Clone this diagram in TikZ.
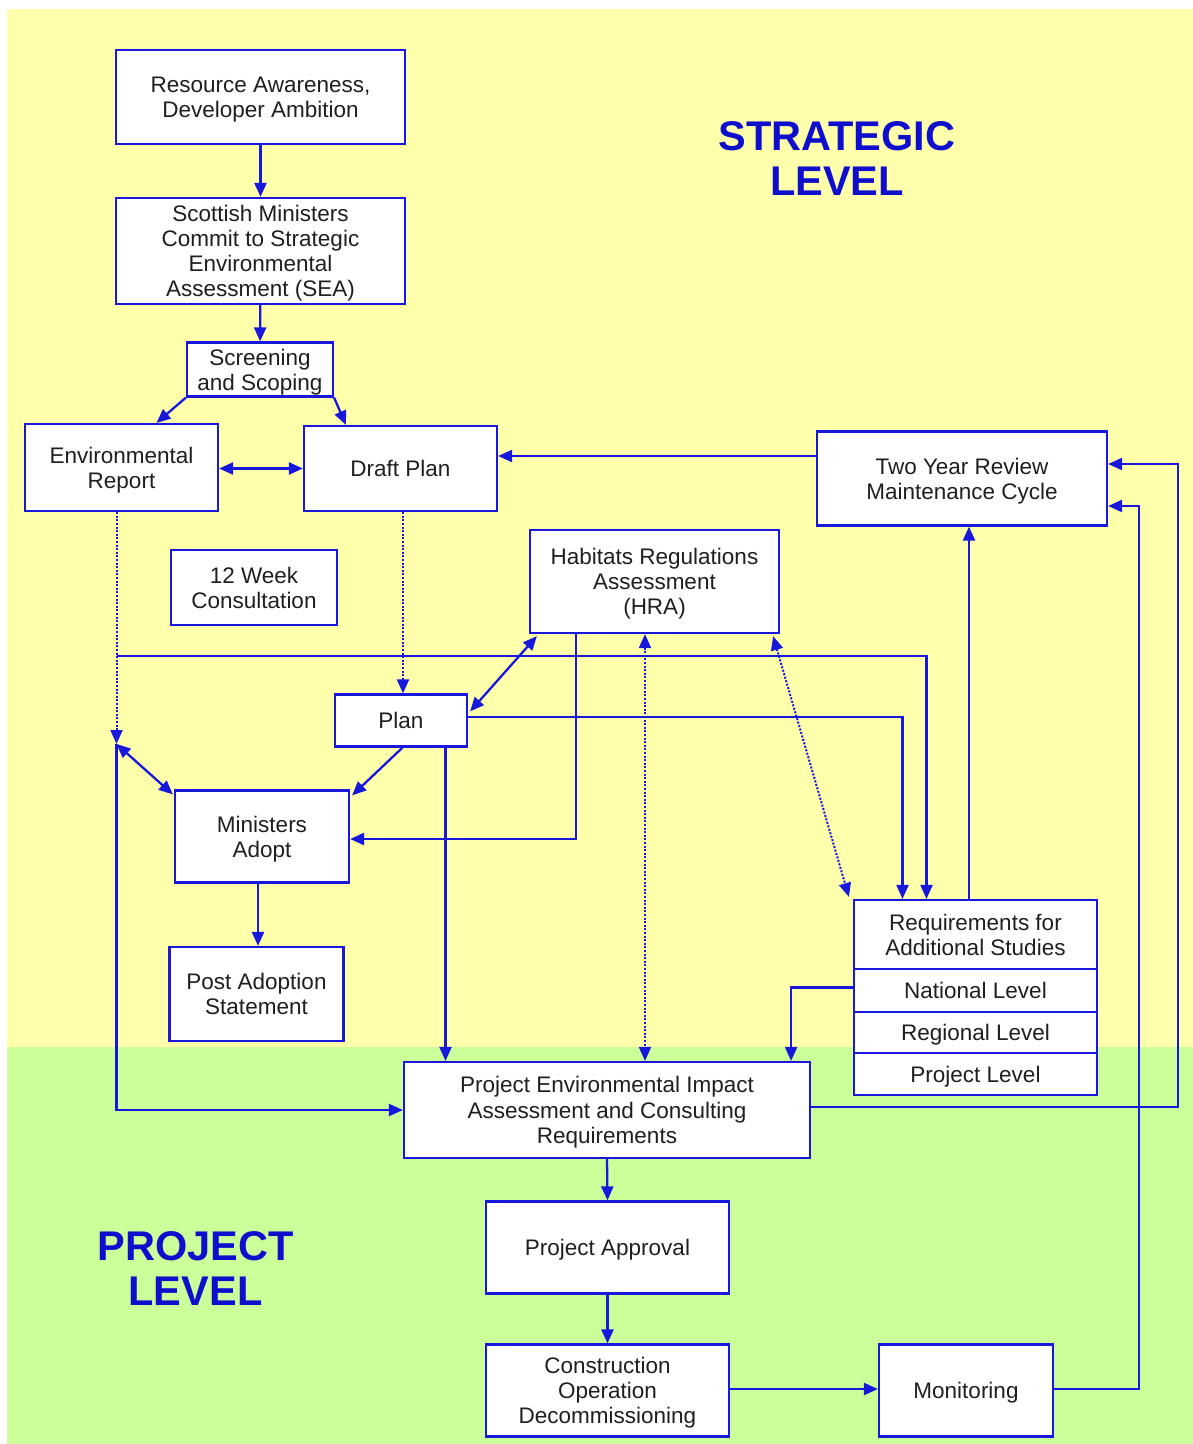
\documentclass[tikz,border=0pt]{standalone}
\usepackage{fontspec}
\setmainfont{Liberation Sans}
\usetikzlibrary{arrows.meta,calc}
\definecolor{bgyellow}{RGB}{255,255,172}
\definecolor{bggreen}{RGB}{204,255,153}
\definecolor{lineblue}{RGB}{24,24,220}
\definecolor{titleblue}{RGB}{14,14,204}
\begin{document}
\begin{tikzpicture}[x=1pt,y=-1pt,
  box/.style={draw=lineblue, line width=2.2pt, fill=white, align=center, inner sep=0pt,
    text depth=0pt, text=black!88, font=\fontsize{22.5}{25.2}\selectfont},
  conn/.style={draw=lineblue, line width=2.3pt},
  arr/.style={conn, -{Triangle[length=14pt,width=12pt]}},
  dbl/.style={conn, {Triangle[length=14pt,width=12pt]}-{Triangle[length=14pt,width=12pt]}},
  dotline/.style={line width=2pt, dash pattern=on 2pt off 1.6pt},
  lvl/.style={text=titleblue, align=center, inner sep=0pt, font=\fontsize{41.5}{45}\selectfont\bfseries}
]
\useasboundingbox (0,0) rectangle (1193,1444);
\fill[bgyellow] (7,9) rectangle (1193,1047);
\fill[bggreen] (7,1047) rectangle (1193,1444);

\node[lvl] (tstrat) at (837,159) {STRATEGIC\\LEVEL};
\node[lvl] (tproj) at (195.5,1268.5) {PROJECT\\LEVEL};

\node[box, minimum width=289pt, minimum height=94pt] (res) at (260.5,97) {Resource Awareness,\\Developer Ambition};
\node[box, minimum width=289pt, minimum height=106pt] (sms) at (260.5,251) {Scottish Ministers\\Commit to Strategic\\Environmental\\Assessment (SEA)};
\node[box, minimum width=146pt, minimum height=54pt] (scr) at (260,369.5) {Screening\\and Scoping};
\node[box, minimum width=193pt, minimum height=87pt] (env) at (121.5,467.5) {Environmental\\Report};
\node[box, minimum width=193pt, minimum height=85pt] (draft) at (400.5,468.5) {Draft Plan};
\node[box, minimum width=290pt, minimum height=94pt] (two) at (962,478.5) {Two Year Review\\Maintenance Cycle};
\node[box, minimum width=166pt, minimum height=75pt] (wk) at (254,587.5) {12 Week\\Consultation};
\node[box, minimum width=249pt, minimum height=103pt] (hra) at (654.5,581.5) {Habitats Regulations\\Assessment\\(HRA)};
\node[box, minimum width=132pt, minimum height=52pt] (plan) at (401,720.5) {Plan};
\node[box, minimum width=174pt, minimum height=92pt] (min) at (262,836.5) {Ministers\\Adopt};
\node[box, minimum width=174pt, minimum height=94pt] (post) at (256.5,994) {Post Adoption\\Statement};
\node[box, minimum width=243pt, minimum height=69pt] (req) at (975.5,934.5) {Requirements for\\Additional Studies};
\node[box, minimum width=243pt, minimum height=43pt] (nat) at (975.5,990.5) {National Level};
\node[box, minimum width=243pt, minimum height=41pt] (reg) at (975.5,1032.5) {Regional Level};
\node[box, minimum width=243pt, minimum height=42pt] (pl) at (975.5,1074) {Project Level};
\node[box, minimum width=406pt, minimum height=96pt] (eia) at (607,1110) {Project Environmental Impact\\Assessment and Consulting\\Requirements};
\node[box, minimum width=243pt, minimum height=92pt] (appr) at (607.5,1247.5) {Project Approval};
\node[box, minimum width=243pt, minimum height=92pt] (con) at (607.5,1390.5) {Construction\\Operation\\Decommissioning};
\node[box, minimum width=174pt, minimum height=92pt] (mon) at (966,1390.5) {Monitoring};

% helper coordinates
\coordinate (j) at (116.5,744);
\coordinate (h1) at (116.5,656);
\coordinate (rx1) at (1178,0);
\coordinate (rx2) at (1139,0);
\coordinate (pe) at ($(plan.south)+(44.5,0)$);
\coordinate (pr) at ($(plan.east)+(0,-3.5)$);
\coordinate (hm) at ($(hra.south)+(-78.5,0)$);
\coordinate (hv) at ($(hra.south)+(-9.5,0)$);
\coordinate (rt) at ($(req.north)+(-6.5,0)$);
\coordinate (t1) at ($(two.east)+(0,-14.5)$);
\coordinate (t2) at ($(two.east)+(0,27.5)$);
\coordinate (e1) at ($(eia.east)+(0,-3)$);
\coordinate (m1) at ($(mon.east)+(0,-1.5)$);
\coordinate (n1) at ($(nat.west)+(0,-3)$);
\coordinate (mp) at ($(min.south)+(-4,0)$);
\coordinate (dp) at ($(draft.south)+(2.5,0)$);

% top chain
\draw[arr] (res) -- (sms);
\draw[arr] (sms) -- (scr);
\draw[arr] (scr.south west) -- ($(env.north)+(35,0)$);
\draw[arr] (scr.south east) -- ($(draft.north west)+(43,0)$);
\draw[dbl] (env.east |- draft.west) -- (draft.west);
\draw[arr] ($(two.west)+(0,-22.5)$) -- (draft.east |- {$(two.west)+(0,-22.5)$});

% environmental report branch
\draw[arr, dotline] (env.south -| j) -- (j);
\draw[dbl] (j) -- ($(min.north west)+(-1,5)$);
\draw[arr] (j) |- (eia.west);
\draw[arr] (h1) -| ($(req.north)+(-49,0)$);

% draft plan / plan
\draw[arr, dotline] (dp) -- (dp |- plan.north);
\draw[dbl] ($(plan.north east)+(2,18)$) -- ($(hra.south west)+(8,2)$);
\draw[arr] ($(plan.south)+(1.5,0)$) -- ($(min.north east)+(2,6)$);
\draw[arr] (pe) -- (pe |- eia.north);
\draw[arr] (pr) -| ($(req.north)+(-73,0)$);

% HRA
\draw[arr] (hm) |- ($(min.east)+(0,2.5)$);
\draw[dbl, dotline] (hv) -- (hv |- eia.north);
\draw[dbl, dotline] ($(hra.south east)+(-7,2)$) -- ($(req.north west)+(-4,-2)$);

% ministers adopt
\draw[arr] (mp) -- (mp |- post.north);

% requirements
\draw[arr] (rt) -- (rt |- two.south);
\draw[arr] (n1) -| ($(eia.north east)+(-20,0)$);

% project level
\draw[arr] (e1) -| (rx1 |- t1) -- (t1);
\draw[arr] (eia.south) -- (appr.north);
\draw[arr] (appr) -- (con);
\draw[arr] (con.east |- m1) -- (mon.west |- m1);
\draw[arr] (m1) -| (rx2 |- t2) -- (t2);
\end{tikzpicture}
\end{document}
